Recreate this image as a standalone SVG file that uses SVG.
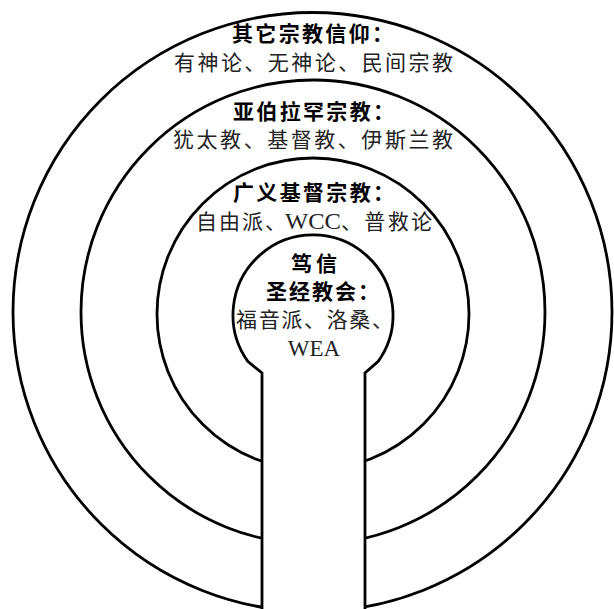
<svg xmlns="http://www.w3.org/2000/svg" width="614" height="609" viewBox="0 0 614 609">
<style>
.ring{fill:#fff;stroke:#000;stroke-width:2.8}
.t{font-family:"Liberation Serif","Noto Sans CJK SC",serif;font-size:21px;fill:#222}
.b{font-family:"Liberation Serif","Noto Sans CJK SC",serif;font-size:21px;font-weight:bold;fill:#000}
.lat{font-family:"Liberation Serif",serif;font-size:23px;fill:#222}
</style>
<rect width="614" height="609" fill="#fff"/>
<g id="other-beliefs">
<circle class="ring" cx="312.5" cy="312" r="299.5"/>
<text class="b" x="232" y="41" textLength="161" lengthAdjust="spacing">其它宗教信仰：</text>
<text class="t" x="174" y="70" textLength="279" lengthAdjust="spacing">有神论、无神论、民间宗教</text>
</g>
<g id="abrahamic">
<circle class="ring" cx="313" cy="312" r="232"/>
<text class="b" x="233" y="119" textLength="161" lengthAdjust="spacing">亚伯拉罕宗教：</text>
<text class="t" x="173" y="147" textLength="280" lengthAdjust="spacing">犹太教、基督教、伊斯兰教</text>
</g>
<g id="broad-christian">
<circle class="ring" cx="313" cy="314" r="156"/>
<text class="b" x="233" y="200" textLength="161" lengthAdjust="spacing">广义基督宗教：</text>
<text class="t" x="196" y="229" textLength="90" lengthAdjust="spacing">自由派、</text>
<text class="lat" x="285" y="229" textLength="56" lengthAdjust="spacingAndGlyphs">WCC</text>
<text class="t" x="341" y="229" textLength="91" lengthAdjust="spacing">、普救论</text>
</g>
<g id="bible-believing">
<path class="ring" d="M262 615 L262 373 L248 361.6 A80 80 0 1 1 378 361.6 L365 373 L365 615"/>
<text class="b" x="291" y="271" textLength="46" lengthAdjust="spacing">笃信</text>
<text class="b" x="266" y="299" textLength="113" lengthAdjust="spacing">圣经教会：</text>
<text class="t" x="236" y="327" textLength="157" lengthAdjust="spacing">福音派、洛桑、</text>
<text class="lat" x="314" y="356" text-anchor="middle">WEA</text>
</g>
<g id="connectors"/>
</svg>
